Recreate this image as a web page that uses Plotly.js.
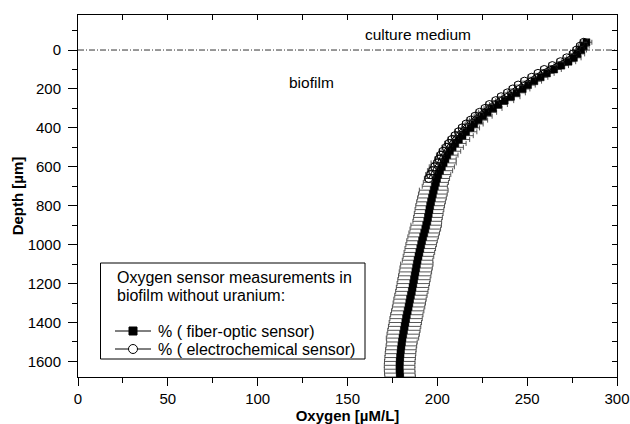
<!DOCTYPE html>
<html>
<head>
<meta charset="utf-8">
<script src="https://cdn.plot.ly/plotly-3.0.1.min.js"></script>
<style>
  html, body { margin: 0; padding: 0; background: #fff; }
  #chart { width: 630px; height: 424px; }
</style>
</head>
<body>
<div id="chart"></div>
<script>
// Depth below the biofilm surface [µm]
const depthFiber = [-40, -20, 0, 20, 40, 60, 80, 100, 120, 140, 160, 180, 200, 220, 240, 260, 280, 300,
  320, 340, 360, 380, 400, 420, 440, 460, 480, 500, 520, 540, 560, 580, 600, 620, 640, 660, 680, 700,
  720, 740, 760, 780, 800, 820, 840, 860, 880, 900, 920, 940, 960, 980, 1000, 1020, 1040, 1060, 1080,
  1100, 1120, 1140, 1160, 1180, 1200, 1220, 1240, 1260, 1280, 1300, 1320, 1340, 1360, 1380, 1400,
  1420, 1440, 1460, 1480, 1500, 1520, 1540, 1560, 1580, 1600, 1620, 1640, 1660, 1680];

// Oxygen, fiber-optic sensor [µM/L]
const oxygenFiber = [283, 281.5, 280, 278, 276, 273, 269, 265, 261, 257.5, 254, 250.5, 247.5, 244, 241,
  237.5, 234, 231, 228, 225.5, 223, 220.5, 218.5, 216, 214, 212, 210, 208.5, 207, 205.5, 204.5, 203.5,
  202.5, 201.5, 200.5, 199.8, 199.2, 198.6, 198, 197.5, 197, 196.5, 196, 195.6, 195.2, 194.8, 194.4,
  193.8, 193.3, 192.7, 192.1, 191.5, 191, 190.5, 190, 189.5, 189, 188.6, 188.2, 187.8, 187.4, 187,
  186.6, 186.2, 185.8, 185.3, 184.8, 184.4, 184, 183.5, 183, 182.6, 182.2, 181.8, 181.4, 181, 180.6,
  180.3, 180, 179.7, 179.5, 179.3, 179.1, 179, 179, 179.1, 179.3];

// Standard deviation of the fiber-optic readings [µM/L]
const errorFiber = [3, 3, 3, 4, 4, 4, 4, 4, 4, 4, 4, 4, 4, 5, 5, 5, 5, 5, 5, 5, 5, 5, 5, 6, 6, 6, 6, 6,
  6, 6, 6, 7, 7, 7, 7, 7, 7, 7, 8, 8, 8, 8, 8, 8, 8, 8, 8, 8.5, 8.5, 8.5, 8.5, 8.5, 8.5, 8.5, 8.5, 8.5,
  8.5, 9, 9, 9, 9, 9, 9, 9, 9, 9, 9, 9, 9, 9, 9, 9, 9, 9, 9, 9, 9, 8.5, 8.5, 8.5, 8.5, 8.5, 8.5, 8.5,
  8.5, 8.5, 8.5];

// Electrochemical profile (upper part of the biofilm only)
const depthElectro = [-40, -20, 0, 20, 40, 60, 80, 100, 120, 140, 160, 180, 200, 220, 240, 260, 280, 300,
  320, 340, 360, 380, 400, 420, 440, 460, 480, 500, 520, 540, 560, 580, 600, 620, 640, 660];
const oxygenElectro = [281.5, 279.5, 277.5, 275.5, 272, 268.5, 264, 259.5, 256, 252.5, 248.5, 245, 242,
  239, 235.5, 232.5, 229, 226.5, 223.5, 221, 218.5, 216, 213.8, 211.8, 209.8, 208, 206.5, 205, 203.2,
  202, 201, 200, 198.5, 197.3, 196.2, 195.2];
const errorElectro = [2, 2, 2, 2, 2, 2, 2, 2, 2, 2, 2, 2, 2, 2, 2, 2, 2, 2, 2, 2, 2, 2, 2, 2, 2, 2, 2, 2,
  2, 2, 2, 2, 2, 2, 2, 2];

const seriesNames = ['% ( fiber-optic sensor)', '% ( electrochemical sensor)'];
const legendHeading = ['Oxygen sensor measurements in', 'biofilm without uranium:'];
const regionLabels = ['culture medium', 'biofilm'];
const xTitle = 'Oxygen [µM/L]';
const yTitle = 'Depth [µm]';

const FONT = 'Liberation Sans, Arial, Helvetica, sans-serif';
const W = 630, H = 424;
const M = { l: 78, r: 13, t: 15, b: 47 };

// Pixel position -> paper fraction (for the boxed key)
const px = v => (v - M.l) / (W - M.l - M.r);
const py = v => (H - M.b - v) / (H - M.t - M.b);

const traces = [
  {
    type: 'scatter', mode: 'lines+markers', name: seriesNames[0],
    x: oxygenFiber, y: depthFiber,
    line: { color: '#000', width: 1 },
    marker: { symbol: 'square', size: 7, color: '#000', line: { color: '#000', width: 0.5 } },
    error_x: { type: 'data', array: errorFiber, visible: true, color: '#444', thickness: 0.9, width: 2.5 }
  },
  {
    type: 'scatter', mode: 'lines+markers', name: seriesNames[1],
    x: oxygenElectro, y: depthElectro,
    line: { color: '#000', width: 1 },
    marker: { symbol: 'circle-open', size: 8, color: '#000', line: { color: '#000', width: 1 } },
    error_x: { type: 'data', array: errorElectro, visible: true, color: '#333', thickness: 0.8, width: 3 }
  },
  // Empty helper trace so the mirrored frame axes are drawn
  { type: 'scatter', x: [], y: [], xaxis: 'x2', yaxis: 'y2', showlegend: false, hoverinfo: 'skip' }
];

// Boxed key: frame, heading, sample symbols and labels
const keyShapes = [
  { type: 'rect', xref: 'paper', yref: 'paper', x0: px(100.5), x1: px(365), y0: py(359), y1: py(263),
    line: { color: '#000', width: 1 }, fillcolor: '#fff', layer: 'above' },
  { type: 'line', xref: 'paper', yref: 'paper', x0: px(115), x1: px(151), y0: py(331), y1: py(331),
    line: { color: '#000', width: 1 }, layer: 'above' },
  { type: 'rect', xref: 'paper', yref: 'paper', x0: px(129), x1: px(137), y0: py(335), y1: py(327),
    line: { color: '#000', width: 1 }, fillcolor: '#000', layer: 'above' },
  { type: 'line', xref: 'paper', yref: 'paper', x0: px(115), x1: px(151), y0: py(349), y1: py(349),
    line: { color: '#000', width: 1 }, layer: 'above' },
  { type: 'circle', xref: 'paper', yref: 'paper', x0: px(128.5), x1: px(137.5), y0: py(353.5), y1: py(344.5),
    line: { color: '#000', width: 1 }, fillcolor: '#fff', layer: 'above' }
];
const keyText = (text, x, y) => ({
  xref: 'paper', yref: 'paper', x: px(x), y: py(y), xanchor: 'left', yanchor: 'middle',
  text: text, showarrow: false, font: { family: FONT, size: 16, color: '#000' }
});

const layout = {
  width: W, height: H,
  margin: M,
  paper_bgcolor: '#fff', plot_bgcolor: '#fff',
  font: { family: FONT, size: 15, color: '#000' },
  showlegend: false,
  xaxis: {
    range: [0, 300], dtick: 50, tick0: 0,
    showline: true, linecolor: '#000', linewidth: 1,
    ticks: 'outside', ticklen: 8, tickwidth: 1, tickcolor: '#000',
    minor: { dtick: 25, ticks: 'outside', ticklen: 5, tickwidth: 1, tickcolor: '#000' },
    showgrid: false, zeroline: false,
    tickfont: { family: FONT, size: 15 },
    title: { text: '<b>' + xTitle + '</b>', font: { family: FONT, size: 15 }, standoff: 4 }
  },
  yaxis: {
    range: [1680, -180], dtick: 200, tick0: 0,
    showline: true, linecolor: '#000', linewidth: 1,
    ticks: 'outside', ticklen: 9, tickwidth: 1, tickcolor: '#000',
    minor: { dtick: 100, ticks: 'outside', ticklen: 5, tickwidth: 1, tickcolor: '#000' },
    showgrid: false, zeroline: false,
    ticklabelstandoff: 4,
    tickfont: { family: FONT, size: 15 },
    title: { text: '<b>' + yTitle + '</b>', font: { family: FONT, size: 15 }, standoff: 0 }
  },
  xaxis2: {
    overlaying: 'x', matches: 'x', side: 'top', anchor: 'y',
    range: [0, 300], dtick: 25, tick0: 0,
    showline: true, linecolor: '#000', linewidth: 1,
    ticks: 'inside', ticklen: 5, tickcolor: '#000',
    showticklabels: false, showgrid: false, zeroline: false
  },
  yaxis2: {
    overlaying: 'y', matches: 'y', side: 'right', anchor: 'x',
    range: [1680, -180], dtick: 100, tick0: 0,
    showline: true, linecolor: '#000', linewidth: 1,
    ticks: 'inside', ticklen: 5, tickcolor: '#000',
    showticklabels: false, showgrid: false, zeroline: false
  },
  shapes: [
    // Biofilm surface
    { type: 'line', xref: 'x', yref: 'y', x0: 0, x1: 300, y0: 0, y1: 0,
      line: { color: '#333', width: 1, dash: '6px,2px,1px,2px' }, layer: 'below' }
  ].concat(keyShapes),
  annotations: [
    { xref: 'x', yref: 'y', x: 189, y: -80, text: regionLabels[0], showarrow: false,
      font: { family: FONT, size: 15.5, color: '#000' } },
    { xref: 'x', yref: 'y', x: 130, y: 165, text: regionLabels[1], showarrow: false,
      font: { family: FONT, size: 15.5, color: '#000' } },
    keyText(legendHeading[0], 115, 277.5),
    keyText(legendHeading[1], 115, 295.5),
    keyText(seriesNames[0], 156, 331),
    keyText(seriesNames[1], 156, 349)
  ]
};

Plotly.newPlot('chart', traces, layout, { displayModeBar: false, staticPlot: true });
</script>
</body>
</html>
